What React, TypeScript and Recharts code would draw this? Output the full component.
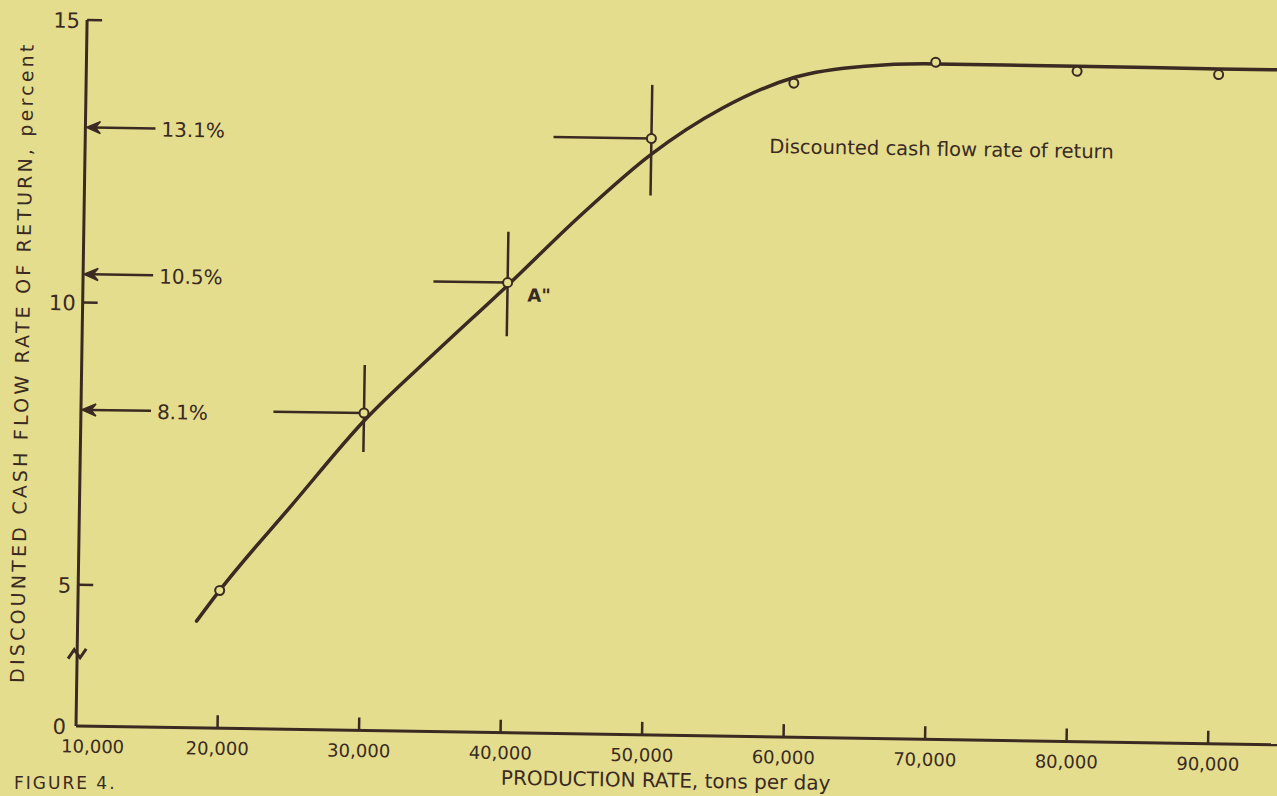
import { ComposedChart, Line, Scatter, ErrorBar, XAxis, YAxis, ReferenceLine, ReferenceDot } from "recharts"

const INK = "#3a2a22"
const PAPER = "#e4dd8e"
const FONT = "'DejaVu Sans', sans-serif"

// plotted points (production rate, tons per day -> rate of return, percent)
const pointRates = [20000, 30000, 40000, 50000, 60000, 70000, 80000, 90000]
const pointReturns = [4.94, 8.12, 10.47, 13.06, 14.08, 14.49, 14.37, 14.35]

// the drawn curve
const curveRates = [18400, 20000, 25000, 30000, 35000, 40000, 45000, 50000, 55000, 60000, 65000, 70000, 80000, 90000, 95000]
const curveReturns = [4.39, 4.94, 6.47, 7.98, 9.22, 10.42, 11.66, 12.78, 13.62, 14.18, 14.4, 14.46, 14.46, 14.45, 14.45]

// ranges drawn at three of the points
const rangeRates = [30000, 40000, 50000]
const rangeCenters = [8.12, 10.47, 13.06]
const rangeLeftRates = [23600, 34760, 43080]
const rangeLow = [7.43, 9.52, 12.05]
const rangeHigh = [8.97, 11.37, 14.01]

// values pointed out on the y axis
const markedReturns = [13.1, 10.5, 8.1]
const markedArrowEnd = 14950

const xTicks = [10000, 20000, 30000, 40000, 50000, 60000, 70000, 80000, 90000]
const xTickLabels = ["10,000", "20,000", "30,000", "40,000", "50,000", "60,000", "70,000", "80,000", "90,000"]
// the axis is broken, its bottom is labelled 0
const yTicks = [2.5, 5, 10, 15]
const yTickLabels = ["0", "5", "10", "15"]
const axisBreakAt = 3.78

const curveData = curveRates.map((x, i) => ({ x, y: curveReturns[i] }))
const pointData = pointRates.map((x, i) => ({ x, y: pointReturns[i] }))
const rangeData = rangeRates.map((x, i) => ({
  x,
  y: rangeCenters[i],
  ex: [x - rangeLeftRates[i], 0],
  ey: [rangeCenters[i] - rangeLow[i], rangeHigh[i] - rangeCenters[i]],
}))

function YTick(props: any) {
  const { x, y, payload, index } = props
  const label = yTickLabels[yTicks.indexOf(payload.value)]
  return (
    <g>
      {index > 0 && <line x1={x} y1={y} x2={x + 15} y2={y} stroke={INK} strokeWidth={2.5} />}
      <text x={x - (index === 0 ? 10 : 7)} y={y + 1} textAnchor="end" dominantBaseline="central" fontFamily={FONT} fontSize={21} fill={INK}>
        {label}
      </text>
    </g>
  )
}

function XTick(props: any) {
  const { x, y, payload, index } = props
  const label = xTickLabels[xTicks.indexOf(payload.value)]
  return (
    <g>
      {index > 0 && <line x1={x} y1={y} x2={x} y2={y - 13} stroke={INK} strokeWidth={2.5} />}
      <text x={index === 0 ? x + 17 : x} y={y + 20} textAnchor="middle" dominantBaseline="central" fontFamily={FONT} fontSize={18} fill={INK}>
        {label}
      </text>
    </g>
  )
}

function YTitle(props: any) {
  const vb = props.viewBox || { x: 0, y: 20, width: 76, height: 706 }
  const cx = vb.x + 16
  const cy = vb.y + vb.height / 2 - 10
  return (
    <text x={cx} y={cy} transform={`rotate(-90 ${cx} ${cy})`} textAnchor="middle" dominantBaseline="central" fontFamily={FONT} fontSize={19} letterSpacing={3.2} fill={INK}>
      DISCOUNTED CASH FLOW RATE OF RETURN, percent
    </text>
  )
}

function XTitle(props: any) {
  const vb = props.viewBox || { x: 76, y: 726, width: 1203, height: 70 }
  return (
    <text x={vb.x + vb.width / 2 - 11} y={vb.y + 45} textAnchor="middle" dominantBaseline="central" fontFamily={FONT} fontSize={20} fill={INK}>
      PRODUCTION RATE, tons per day
    </text>
  )
}

function ArrowMark(props: any) {
  const { x1, y1, x2, text } = props
  const left = Math.min(x1, x2)
  const right = Math.max(x1, x2)
  const y = y1
  return (
    <g>
      <line x1={left + 8} y1={y} x2={right} y2={y} stroke={INK} strokeWidth={2.5} />
      <path d={`M${left + 1},${y} L${left + 15},${y - 6} L${left + 10},${y} L${left + 15},${y + 6} Z`} fill={INK} stroke={INK} strokeWidth={1.5} />
      <text x={right + 6} y={y + 1} dominantBaseline="central" fontFamily={FONT} fontSize={20} fill={INK}>
        {text}
      </text>
    </g>
  )
}

function BreakMark(props: any) {
  const { cx, cy } = props
  return (
    <path
      d={`M${cx - 9},${cy + 5} L${cx - 3},${cy - 4} L${cx + 3},${cy + 4} L${cx + 9},${cy - 5}`}
      fill="none"
      stroke={INK}
      strokeWidth={3}
    />
  )
}

function TextNote(props: any) {
  const vb = props.viewBox || { x: 0, y: 0 }
  return (
    <text x={vb.x + props.dx0} y={vb.y + props.dy0} textAnchor="start" dominantBaseline="central" fontFamily={FONT} fontSize={props.size} fontWeight={props.weight} fill={INK}>
      {props.text}
    </text>
  )
}

export default function App() {
  return (
    <div style={{ width: 1277, height: 796, overflow: "hidden", background: PAPER, position: "relative" }}>
      <style>{"body{margin:0}"}</style>
      <div style={{ position: "absolute", left: 0, top: 0, transform: "rotate(0.9deg)", transformOrigin: "76px 726px" }}>
        <ComposedChart width={1300} height={796} margin={{ top: 20, right: 21, left: 0, bottom: 0 }}>
          <XAxis
            type="number"
            dataKey="x"
            domain={[10000, 95000]}
            ticks={xTicks}
            interval={0}
            allowDataOverflow
            height={70}
            tickSize={0}
            tickMargin={0}
            tickLine={false}
            axisLine={{ stroke: INK, strokeWidth: 3 }}
            tick={(p: any) => <XTick {...p} />}
            label={<XTitle />}
          />
          <YAxis
            type="number"
            dataKey="y"
            domain={[2.5, 15]}
            ticks={yTicks}
            interval={0}
            allowDataOverflow
            width={76}
            tickSize={0}
            tickMargin={0}
            tickLine={false}
            axisLine={{ stroke: INK, strokeWidth: 3 }}
            tick={(p: any) => <YTick {...p} />}
            label={<YTitle />}
          />
          {markedReturns.map((v) => (
            <ReferenceLine
              key={v}
              segment={[{ x: markedArrowEnd, y: v }, { x: 10000, y: v }]}
              stroke={INK}
              shape={(p: any) => <ArrowMark {...p} text={`${v}%`} />}
            />
          ))}
          <ReferenceDot x={10000} y={axisBreakAt} r={6} shape={(p: any) => <BreakMark {...p} />} />
          <Line
            data={curveData}
            dataKey="y"
            type="monotone"
            stroke={INK}
            strokeWidth={3.5}
            strokeLinecap="round"
            dot={false}
            activeDot={false}
            isAnimationActive={false}
          />
          <Scatter data={rangeData} dataKey="y" shape={() => <g />} isAnimationActive={false}>
            <ErrorBar dataKey="ex" direction="x" width={0} stroke={INK} strokeWidth={2.5} />
            <ErrorBar dataKey="ey" direction="y" width={0} stroke={INK} strokeWidth={2.5} />
          </Scatter>
          <Scatter
            data={pointData}
            dataKey="y"
            isAnimationActive={false}
            shape={(p: any) => <circle cx={p.cx} cy={p.cy} r={4.5} fill={PAPER} stroke={INK} strokeWidth={2} />}
          />
          <ReferenceDot
            x={40000}
            y={10.47}
            r={0}
            fill="none"
            stroke="none"
            label={<TextNote text={'A"'} dx0={20} dy0={12} size={18} weight="bold" />}
          />
          <ReferenceDot
            x={58340}
            y={12.81}
            r={0}
            fill="none"
            stroke="none"
            label={<TextNote text="Discounted cash flow rate of return" dx0={0} dy0={-8} size={19.5} weight="normal" />}
          />
        </ComposedChart>
      </div>
      <div style={{ position: "absolute", left: 14, top: 773, fontFamily: FONT, fontSize: 17, letterSpacing: 2, color: INK, whiteSpace: "nowrap" }}>
        FIGURE 4.
      </div>
    </div>
  )
}
